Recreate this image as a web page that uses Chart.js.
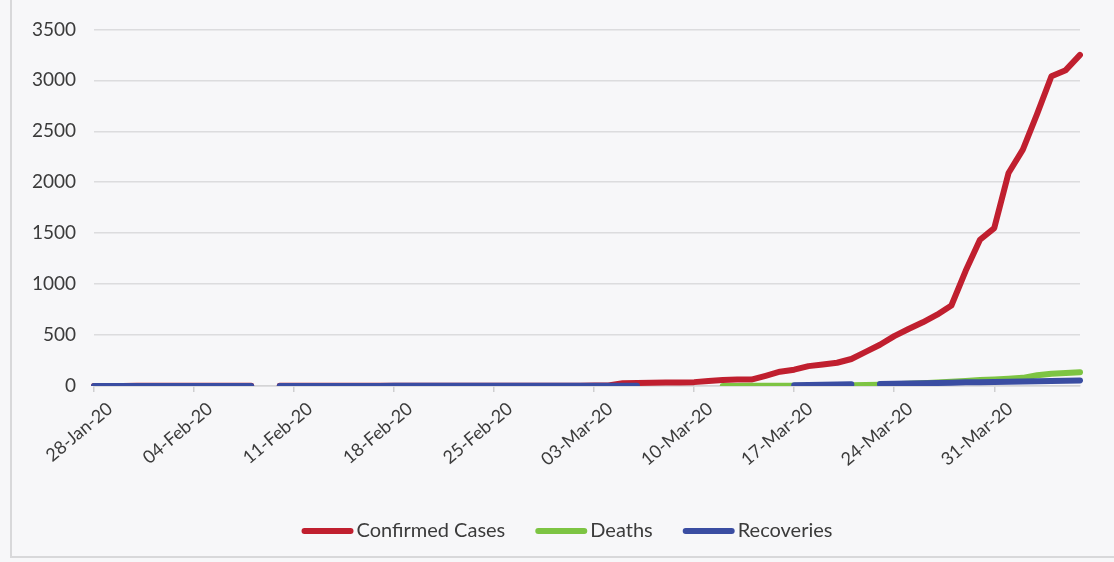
<!DOCTYPE html>
<html>
<head>
<meta charset="utf-8">
<title>Cases, deaths and recoveries</title>
<script src="https://cdn.jsdelivr.net/npm/chart.js@4.4.1/dist/chart.umd.min.js"></script>
<style>
  html, body { margin: 0; padding: 0; background: #f7f7f9; }
  #wrap { position: relative; width: 1114px; height: 562px; overflow: hidden; }
  #frame {
    position: absolute; left: 10px; top: -2px; width: 1110px; height: 560px;
    border-left: 2px solid #d8d8da; border-bottom: 2px solid #d8d8da; box-sizing: border-box;
  }
  #chart { position: absolute; left: 0; top: 0; }
</style>
</head>
<body>
<div id="wrap">
  <div id="frame"></div>
  <canvas id="chart" width="1114" height="562"></canvas>
</div>
<script>
// one label per day, 28-Jan-20 .. 06-Apr-20
const dates = [
  '28-Jan-20', '29-Jan-20', '30-Jan-20', '31-Jan-20',
  '01-Feb-20', '02-Feb-20', '03-Feb-20', '04-Feb-20', '05-Feb-20', '06-Feb-20', '07-Feb-20',
  '08-Feb-20', '09-Feb-20', '10-Feb-20', '11-Feb-20', '12-Feb-20', '13-Feb-20', '14-Feb-20',
  '15-Feb-20', '16-Feb-20', '17-Feb-20', '18-Feb-20', '19-Feb-20', '20-Feb-20', '21-Feb-20',
  '22-Feb-20', '23-Feb-20', '24-Feb-20', '25-Feb-20', '26-Feb-20', '27-Feb-20', '28-Feb-20',
  '29-Feb-20',
  '01-Mar-20', '02-Mar-20', '03-Mar-20', '04-Mar-20', '05-Mar-20', '06-Mar-20', '07-Mar-20',
  '08-Mar-20', '09-Mar-20', '10-Mar-20', '11-Mar-20', '12-Mar-20', '13-Mar-20', '14-Mar-20',
  '15-Mar-20', '16-Mar-20', '17-Mar-20', '18-Mar-20', '19-Mar-20', '20-Mar-20', '21-Mar-20',
  '22-Mar-20', '23-Mar-20', '24-Mar-20', '25-Mar-20', '26-Mar-20', '27-Mar-20', '28-Mar-20',
  '29-Mar-20', '30-Mar-20', '31-Mar-20',
  '01-Apr-20', '02-Apr-20', '03-Apr-20', '04-Apr-20', '05-Apr-20', '06-Apr-20'
];

// null = no value for that day (gaps in the lines)
const confirmed = [
  0, 0, 1, 3, 3, 3, 3, 3, 3, 3, 3, 3, null,
  3, 3, 3, 3, 3, 3, 3, 3, 3, 3, 3, 3, 3, 3, 3, 3, 3, 3, 3, 3, 3, 3,
  5, 6, 28, 30, 31, 34, 35,
  38, 50, 60, 63, 63, 100, 140,
  160, 195, 212, 228, 265, 335, 405,
  490, 560, 625, 700, 790, 1130, 1435,
  1550, 2090, 2320, 2670, 3040, 3100, 3250
];

const deaths = [
  null, null, null, null, null, null, null, null, null, null, null, null, null,
  null, null, null, null, null, null, null, null, null, null, null, null, null, null, null, null,
  null, null, null, null, null, null, null, null, null, null, null, null, null, null, null,
  1, 1, 2, 2, 3,
  3, 3, 4, 4, 7, 10, 12,
  16, 22, 28, 35, 42, 50, 58,
  65, 72, 80, 105, 120, 128, 135
];

const recoveries = [
  0, 0, 0, 0, 0, 0, 0, 0, 0, 0, 0, 0, null,
  0, 0, 0, 0, 0, 0, 0, 0, 3, 3, 3, 3, 3, 3, 3, 3, 3, 3, 3, 3, 3, 3, 3, 3, 3, 3,
  null, null, null, null, null, null, null, null, null, null,
  8, 10, 12, 14, 16, null, 20,
  22, 25, 28, 30, 33, 36, 38,
  40, 42, 45, 47, 50, 52, 55
];

const yMax = 3500;
const yStep = 500;

const seriesNames = ['Confirmed Cases', 'Deaths', 'Recoveries'];
const seriesColors = ['#c01f2f', '#7dc443', '#3a4da2'];

const FONT = 'Lato, "Open Sans", sans-serif';
const TEXT = '#3b3b3b';

// legend drawn as a short thick line followed by the name
const lineLegend = {
  id: 'lineLegend',
  afterDraw(chart) {
    const ctx = chart.ctx;
    const y = 531;
    const lineW = 52;
    const gapText = 3;
    const gapItem = 30;
    ctx.save();
    ctx.font = '20px ' + FONT;
    ctx.textBaseline = 'middle';
    const items = chart.data.datasets.map(ds => ({
      text: ds.label,
      color: ds.borderColor,
      w: ctx.measureText(ds.label).width
    }));
    const total = items.reduce((s, it) => s + lineW + gapText + it.w, 0) + gapItem * (items.length - 1);
    let x = 567 - total / 2;
    items.forEach(it => {
      ctx.strokeStyle = it.color;
      ctx.lineWidth = 6;
      ctx.lineCap = 'round';
      ctx.beginPath();
      ctx.moveTo(x + 3, y);
      ctx.lineTo(x + lineW - 3, y);
      ctx.stroke();
      ctx.fillStyle = TEXT;
      ctx.fillText(it.text, x + lineW + gapText, y);
      x += lineW + gapText + it.w + gapItem;
    });
    ctx.restore();
  }
};

function lineSet(i, data, order) {
  return {
    label: seriesNames[i],
    data: data,
    borderColor: seriesColors[i],
    backgroundColor: seriesColors[i],
    borderWidth: 6,
    borderCapStyle: 'round',
    borderJoinStyle: 'round',
    pointRadius: 0,
    tension: 0,
    spanGaps: false,
    order: order
  };
}

new Chart(document.getElementById('chart'), {
  type: 'line',
  data: {
    labels: dates,
    datasets: [
      lineSet(0, confirmed, 3),
      lineSet(1, deaths, 2),
      lineSet(2, recoveries, 1)
    ]
  },
  options: {
    responsive: false,
    animation: false,
    events: [],
    layout: { padding: { left: 0, right: 34, top: 28, bottom: 0 } },
    scales: {
      x: {
        offset: false,
        afterFit(scale) { scale.height = 176; },
        grid: {
          drawOnChartArea: false,
          drawTicks: true,
          tickLength: 6,
          lineWidth: 1.5,
          color: ctx => (ctx.index % 7 === 0 ? '#cfcfd1' : 'rgba(0,0,0,0)')
        },
        border: { display: true, color: '#d4d4d6', width: 1.5 },
        ticks: {
          autoSkip: false,
          maxRotation: 40,
          minRotation: 40,
          padding: 6,
          labelOffset: 16,
          color: TEXT,
          font: { family: FONT, size: 18 },
          callback: function (val, i) {
            return i % 7 === 0 ? this.getLabelForValue(val) : '';
          }
        }
      },
      y: {
        min: 0,
        max: yMax,
        afterFit(scale) { scale.width = 94; },
        grid: { color: '#dcdcde', lineWidth: 1.5, drawTicks: false },
        border: { display: false },
        ticks: {
          stepSize: yStep,
          padding: 18,
          color: TEXT,
          font: { family: FONT, size: 19 },
          callback: v => String(v)
        }
      }
    },
    plugins: {
      legend: { display: false },
      tooltip: { enabled: false }
    }
  },
  plugins: [lineLegend]
});
</script>
</body>
</html>
